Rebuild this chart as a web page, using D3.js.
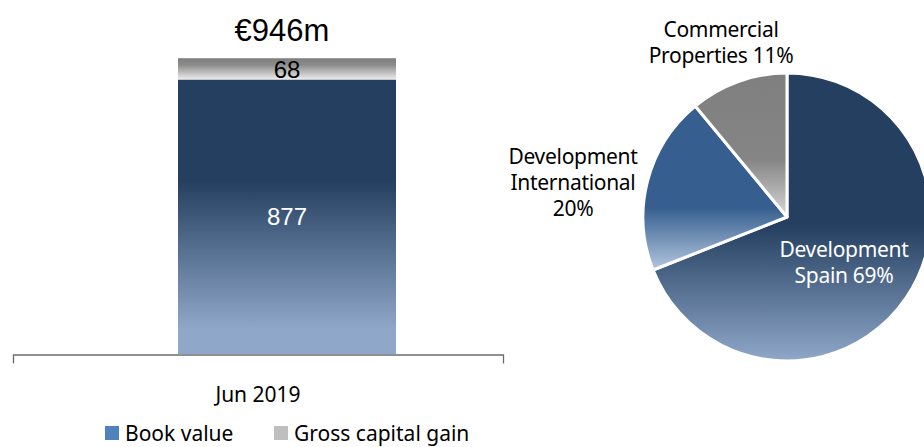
<!DOCTYPE html>
<html>
<head>
<meta charset="utf-8">
<script src="https://cdn.jsdelivr.net/npm/d3@7"></script>
<style>
  body { margin: 0; background: #fff; }
  svg { display: block; }
</style>
</head>
<body>
<div class="d3"></div>
<script>
  // bar chart data
  let categories = ['Jun 2019'];
  let bookValue = [877];
  let capitalGain = [68];
  let totalLabels = ['€946m'];
  let legendNames = ['Book value', 'Gross capital gain'];

  // pie data
  let segments = ['Development Spain', 'Development International', 'Commercial Properties'];
  let shares = [69, 20, 11];
  let segmentLabels = [
    ['Development', 'Spain 69%'],
    ['Development', 'International', '20%'],
    ['Commercial', 'Properties 11%']
  ];

  let width = 924;
  let height = 447;
  let labelFont = '"Noto Sans", Lato, sans-serif';
  let numFont = '"Liberation Sans", Arial, sans-serif';

  let svg = d3
    .select('.d3')
    .append('svg')
    .attr('width', width)
    .attr('height', height);

  let defs = svg.append('defs');

  function vGrad(id, stops) {
    let g = defs
      .append('linearGradient')
      .attr('id', id)
      .attr('x1', 0).attr('y1', 0)
      .attr('x2', 0).attr('y2', 1);
    stops.forEach(s => {
      g.append('stop').attr('offset', s[0]).attr('stop-color', s[1]);
    });
  }

  vGrad('barBlue', [[0, '#253f60'], [0.37, '#253f60'], [0.91, '#8fa8c9'], [1, '#8fa8c9']]);
  vGrad('barGrey', [[0, '#7f7f7f'], [0.3, '#8a8a8a'], [1, '#ececec']]);
  vGrad('pieSpain', [[0, '#253f60'], [0.53, '#253f60'], [1, '#8fa8c9']]);
  vGrad('pieIntl', [[0, '#365f8f'], [0.62, '#365f8f'], [1, '#b3c6df']]);
  vGrad('pieComm', [[0, '#7f7f7f'], [0.6, '#858585'], [1, '#d6d6d6']]);

  // ---- stacked bar ----
  let x = d3.scaleBand().domain(categories).range([13, 503]);
  let y = d3.scaleLinear().domain([0, 1000]).range([354, 41]);
  let barW = 218;
  let barOffset = 165;

  let bars = svg.append('g');

  bars
    .selectAll('rect.book')
    .data(categories)
    .enter()
    .append('rect')
    .attr('class', 'book')
    .attr('x', d => x(d) + barOffset)
    .attr('width', barW)
    .attr('y', (d, i) => y(bookValue[i]))
    .attr('height', (d, i) => y(0) - y(bookValue[i]))
    .attr('fill', 'url(#barBlue)');

  bars
    .selectAll('rect.gain')
    .data(categories)
    .enter()
    .append('rect')
    .attr('class', 'gain')
    .attr('x', d => x(d) + barOffset)
    .attr('width', barW)
    .attr('y', (d, i) => y(bookValue[i] + capitalGain[i]))
    .attr('height', (d, i) => y(bookValue[i]) - y(bookValue[i] + capitalGain[i]))
    .attr('fill', 'url(#barGrey)');

  bars
    .selectAll('text.bookLbl')
    .data(categories)
    .enter()
    .append('text')
    .attr('x', d => x(d) + barOffset + barW / 2)
    .attr('y', (d, i) => y(bookValue[i] / 2) + 8)
    .attr('text-anchor', 'middle')
    .attr('font-family', numFont)
    .attr('font-size', 24)
    .attr('fill', '#fff')
    .text((d, i) => bookValue[i]);

  bars
    .selectAll('text.gainLbl')
    .data(categories)
    .enter()
    .append('text')
    .attr('x', d => x(d) + barOffset + barW / 2)
    .attr('y', (d, i) => y(bookValue[i] + capitalGain[i] / 2) + 9)
    .attr('text-anchor', 'middle')
    .attr('font-family', numFont)
    .attr('font-size', 24)
    .attr('fill', '#000')
    .text((d, i) => capitalGain[i]);

  bars
    .selectAll('text.total')
    .data(categories)
    .enter()
    .append('text')
    .attr('x', d => x(d) + barOffset + barW / 2 - 5)
    .attr('y', (d, i) => y(bookValue[i] + capitalGain[i]) - 17)
    .attr('text-anchor', 'middle')
    .attr('font-family', numFont)
    .attr('font-size', 31)
    .attr('fill', '#000')
    .text((d, i) => totalLabels[i]);

  let axis = svg
    .append('g')
    .attr('transform', 'translate(0,' + (y(0) + 0.5) + ')')
    .call(d3.axisBottom(x).tickSizeInner(0).tickSizeOuter(9).tickPadding(33));

  axis.select('.domain').attr('stroke', '#6b6b6b').attr('stroke-width', 1.3);
  axis
    .selectAll('text')
    .attr('font-family', labelFont)
    .attr('font-size', 21)
    .attr('fill', '#000');

  // legend
  let legendColors = ['#4f81bd', '#bfbfbf'];
  let legendX = [105, 274];
  let legend = svg
    .append('g')
    .selectAll('g')
    .data(legendNames)
    .enter()
    .append('g')
    .attr('transform', (d, i) => 'translate(' + legendX[i] + ',426)');

  legend
    .append('rect')
    .attr('width', 14)
    .attr('height', 14)
    .attr('fill', (d, i) => legendColors[i]);

  legend
    .append('text')
    .attr('x', 20)
    .attr('y', 15)
    .attr('font-family', labelFont)
    .attr('font-size', 21)
    .attr('fill', '#000')
    .text(d => d);

  // ---- pie ----
  let cx = 787;
  let cy = 217;
  let r = 144;
  let pieFills = ['url(#pieSpain)', 'url(#pieIntl)', 'url(#pieComm)'];

  let pie = d3.pie().sort(null).value(d => d)(shares);
  let arc = d3.arc().innerRadius(0).outerRadius(r);

  let pg = svg.append('g').attr('transform', 'translate(' + cx + ',' + cy + ')');

  pg
    .selectAll('path')
    .data(pie)
    .enter()
    .append('path')
    .attr('d', arc)
    .attr('fill', (d, i) => pieFills[i])
    .attr('stroke', '#fff')
    .attr('stroke-width', 3)
    .attr('stroke-linejoin', 'round');

  // label anchors relative to pie centre
  let labelPos = [[57, 40], [-214, -53], [-66, -180]];
  let labelColors = ['#fff', '#000', '#000'];

  let lbl = svg
    .append('g')
    .selectAll('text')
    .data(segments)
    .enter()
    .append('text')
    .attr('text-anchor', 'middle')
    .attr('font-family', labelFont)
    .attr('font-size', 21)
    .attr('letter-spacing', -0.3)
    .attr('fill', (d, i) => labelColors[i])
    .attr('x', (d, i) => cx + labelPos[i][0])
    .attr('y', (d, i) => cy + labelPos[i][1]);

  lbl
    .selectAll('tspan')
    .data((d, i) => segmentLabels[i].map(t => ({ t: t, x: cx + labelPos[i][0] })))
    .enter()
    .append('tspan')
    .attr('x', d => d.x)
    .attr('dy', (d, j) => (j === 0 ? 0 : 26))
    .text(d => d.t);
</script>
</body>
</html>
